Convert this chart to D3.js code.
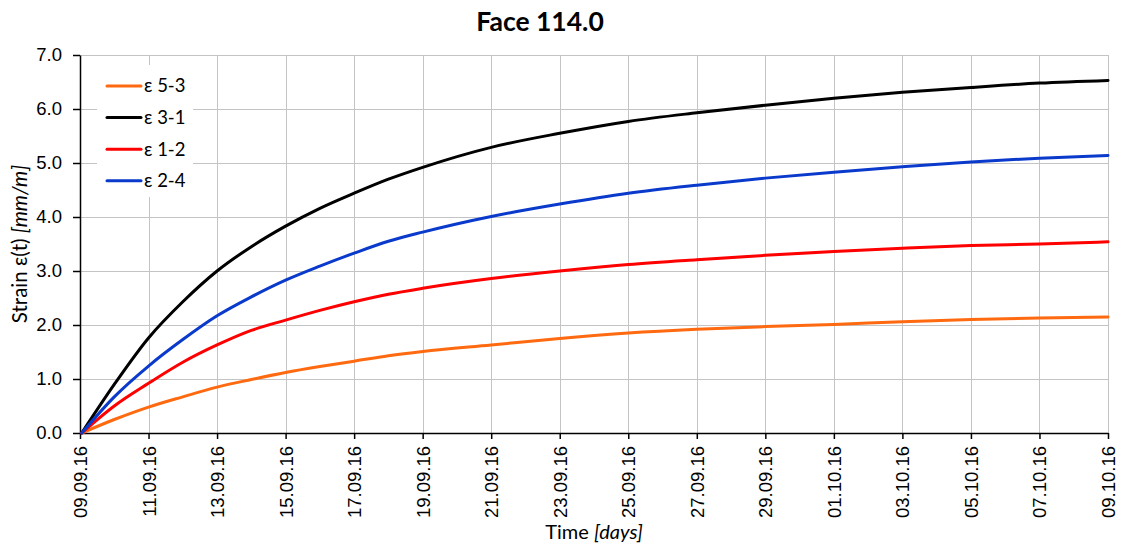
<!DOCTYPE html>
<html>
<head>
<meta charset="utf-8">
<script src="https://cdn.jsdelivr.net/npm/d3@7"></script>
<style>
  html, body { margin: 0; padding: 0; background: #fff; }
  svg { display: block; font-family: Lato, "Open Sans", sans-serif; }
</style>
</head>
<body>
<svg id="chart" width="1123" height="544"></svg>
<script>
// Measurement days, counted from 09.09.16 00:00
const days = [0.05, 1, 2, 3, 4, 5, 6, 7, 8, 9, 10, 12, 14, 16, 18, 20, 22, 24, 26, 28, 30];

// Strain readings [mm/m]
const eps53 = [0, 0.25, 0.48, 0.67, 0.85, 0.99, 1.12, 1.23, 1.33, 1.43, 1.51, 1.63, 1.75, 1.85, 1.92, 1.97, 2.01, 2.06, 2.10, 2.13, 2.15];
const eps31 = [0, 0.90, 1.76, 2.43, 3.00, 3.45, 3.83, 4.16, 4.44, 4.70, 4.92, 5.29, 5.55, 5.77, 5.93, 6.07, 6.20, 6.31, 6.40, 6.48, 6.53];
const eps12 = [0, 0.50, 0.92, 1.31, 1.63, 1.90, 2.09, 2.27, 2.43, 2.57, 2.68, 2.86, 3.00, 3.12, 3.21, 3.29, 3.36, 3.42, 3.47, 3.50, 3.54];
const eps24 = [0, 0.67, 1.24, 1.73, 2.17, 2.52, 2.83, 3.09, 3.33, 3.55, 3.72, 4.01, 4.24, 4.44, 4.59, 4.72, 4.83, 4.93, 5.02, 5.09, 5.14];

const seriesNames = ["ε 5-3", "ε 3-1", "ε 1-2", "ε 2-4"];
const seriesColors = ["#ff6a10", "#000000", "#ff0000", "#0a3acc"];
const seriesValues = [eps53, eps31, eps12, eps24];

const yTicks = [0, 1, 2, 3, 4, 5, 6, 7];
const startDate = new Date(2016, 8, 9);
const endDate = new Date(2016, 9, 9);

const title = "Face 114.0";

const svg = d3.select("#chart");
const margin = { left: 80, right: 15, top: 55, bottom: 111 };
const W = 1123, H = 544;
const plotW = W - margin.left - margin.right;
const plotH = H - margin.top - margin.bottom;

const x = d3.scaleTime().domain([startDate, endDate]).range([margin.left, margin.left + plotW]);
const y = d3.scaleLinear().domain([0, 7]).range([margin.top + plotH, margin.top]);

const xTickDates = d3.timeDay.range(startDate, d3.timeDay.offset(endDate, 1), 2);
const fmt = d3.timeFormat("%d.%m.%y");
const toDate = d => new Date(startDate.getTime() + d * 864e5);

// Grid
const grid = svg.append("g").attr("stroke", "#c4c4c4").attr("stroke-width", 1);
grid.selectAll("line.h").data(yTicks.filter(v => v > 0)).join("line")
  .attr("x1", margin.left).attr("x2", margin.left + plotW)
  .attr("y1", d => Math.round(y(d)) + 0.5).attr("y2", d => Math.round(y(d)) + 0.5);
grid.selectAll("line.v").data(xTickDates.slice(1)).join("line")
  .attr("y1", margin.top).attr("y2", margin.top + plotH)
  .attr("x1", d => Math.round(x(d)) + 0.5).attr("x2", d => Math.round(x(d)) + 0.5);

// Axes
const xAxis = svg.append("g")
  .attr("transform", `translate(0,${margin.top + plotH})`)
  .call(d3.axisBottom(x).tickValues(xTickDates).tickFormat(fmt).tickSize(6).tickSizeOuter(0));
xAxis.select(".domain").attr("stroke", "#000").attr("stroke-width", 1.5);
xAxis.selectAll(".tick line").attr("stroke", "#000").attr("stroke-width", 1.5);
xAxis.selectAll(".tick text")
  .attr("font-size", 18.5).attr("fill", "#000")
  .attr("text-anchor", "end")
  .attr("transform", "rotate(-90)")
  .attr("x", -13).attr("y", 0).attr("dy", "0.35em");

const yAxis = svg.append("g")
  .attr("transform", `translate(${margin.left},0)`)
  .call(d3.axisLeft(y).tickValues(yTicks).tickFormat(d3.format(".1f")).tickSize(7).tickSizeOuter(0));
yAxis.select(".domain").attr("stroke", "#000").attr("stroke-width", 1.5);
yAxis.selectAll(".tick line").attr("stroke", "#000").attr("stroke-width", 1.5);
yAxis.selectAll(".tick text").attr("font-size", 18.5).attr("fill", "#000").attr("x", -18);

// Series
const line = d3.line()
  .x((d, i) => x(toDate(days[i])))
  .y(d => y(d))
  .curve(d3.curveMonotoneX);

const plot = svg.append("g");
seriesValues.forEach((vals, k) => {
  plot.append("path")
    .attr("d", line(vals))
    .attr("fill", "none")
    .attr("stroke", seriesColors[k])
    .attr("stroke-width", 3)
    .attr("stroke-linejoin", "round")
    .attr("stroke-linecap", "round");
});

// Legend
const legend = svg.append("g");
legend.append("rect").attr("x", 97).attr("y", 65).attr("width", 96).attr("height", 132).attr("fill", "#fff");
seriesNames.forEach((name, k) => {
  const ly = 86 + k * 31.6;
  legend.append("line")
    .attr("x1", 107).attr("x2", 141).attr("y1", ly).attr("y2", ly)
    .attr("stroke", seriesColors[k]).attr("stroke-width", 3).attr("stroke-linecap", "round");
  legend.append("text")
    .attr("x", 144).attr("y", ly).attr("dy", "0.35em")
    .attr("font-size", 18.5).attr("fill", "#000").text(name);
});

// Titles
svg.append("text")
  .attr("x", 540).attr("y", 31).attr("text-anchor", "middle")
  .attr("font-size", 26.5).attr("font-weight", "bold").attr("fill", "#000")
  .text(title);

const xt = svg.append("text")
  .attr("x", margin.left + plotW / 2).attr("y", 539).attr("text-anchor", "middle")
  .attr("font-size", 20).attr("fill", "#000");
xt.append("tspan").text("Time ");
xt.append("tspan").attr("font-style", "italic").text("[days]");

const yt = svg.append("text")
  .attr("transform", `translate(27,${margin.top + plotH / 2}) rotate(-90)`)
  .attr("text-anchor", "middle")
  .attr("font-size", 20.5).attr("fill", "#000");
yt.append("tspan").text("Strain ε(t) ");
yt.append("tspan").attr("font-style", "italic").text("[mm/m]");
</script>
</body>
</html>
